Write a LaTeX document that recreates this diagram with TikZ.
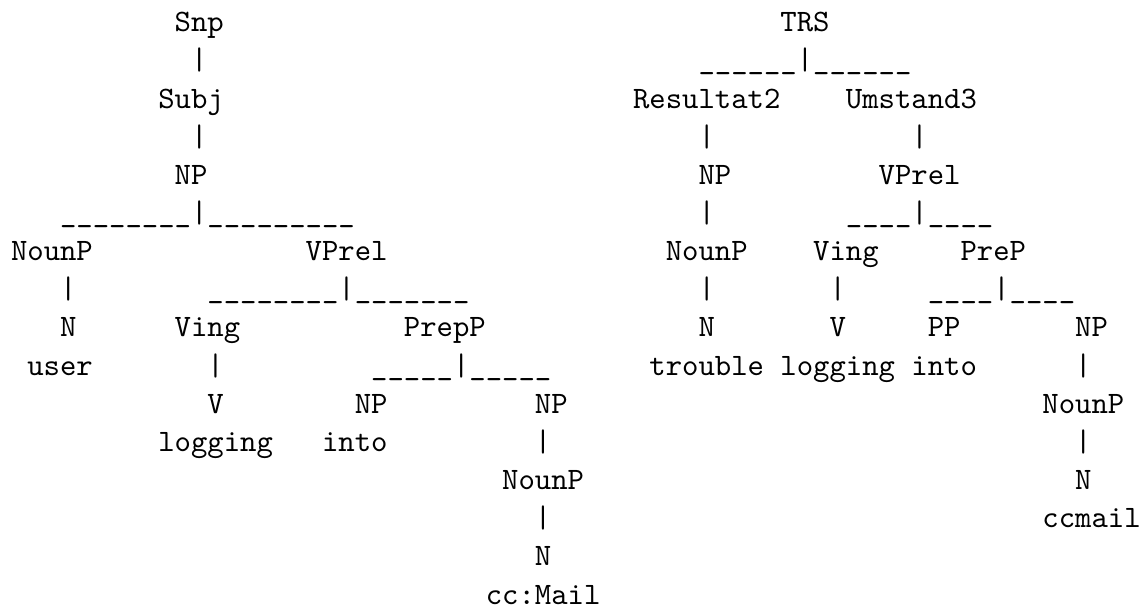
\documentclass[tikz,border=0pt]{standalone}
\usepackage{tikz}

\begin{document}
\begin{tikzpicture}[
    x=5.25pt, y=-12.235pt,
    lab/.style={anchor=base west, inner sep=0pt, outer sep=0pt, font=\ttfamily},
]
\useasboundingbox (-3.53pt,10.17pt) rectangle (363.97pt,-186.43pt);

% Left tree
\node[lab] (snp) at (10,0) {Snp};
\node[lab] (snpbar) at (11,1) {|};
\node[lab] (subj) at (9,2) {Subj};
\node[lab] (subjbar) at (11,3) {|};
\node[lab] (np) at (10,4) {NP};
\node[lab] (npfork) at (3,5) {\_\_\_\_\_\_\_\_|\_\_\_\_\_\_\_\_\_};

\node[lab] (nounp) at (0,6) {NounP};
\node[lab] (vprel) at (18,6) {VPrel};
\node[lab] (nounpbar) at (3,7) {|};
\node[lab] (vprelfork) at (12,7) {\_\_\_\_\_\_\_\_|\_\_\_\_\_\_\_};

\node[lab] (n) at (3,8) {N};
\node[lab] (ving) at (10,8) {Ving};
\node[lab] (prepp) at (24,8) {PrepP};
\node[lab] (user) at (1,9) {user};
\node[lab] (vingbar) at (12,9) {|};
\node[lab] (preppfork) at (22,9) {\_\_\_\_\_|\_\_\_\_\_};

\node[lab] (v) at (12,10) {V};
\node[lab] (npa) at (21,10) {NP};
\node[lab] (npb) at (32,10) {NP};
\node[lab] (logging) at (9,11) {logging};
\node[lab] (into) at (19,11) {into};
\node[lab] (npbbar) at (32,11) {|};
\node[lab] (nounpb) at (30,12) {NounP};
\node[lab] (nounpbbar) at (32,13) {|};
\node[lab] (nb) at (32,14) {N};
\node[lab] (ccmail) at (29,15) {cc:Mail};

% Right tree
\node[lab] (trs) at (47,0) {TRS};
\node[lab] (trsfork) at (42,1) {\_\_\_\_\_\_|\_\_\_\_\_\_};
\node[lab] (res) at (38,2) {Resultat2};
\node[lab] (umst) at (51,2) {Umstand3};
\node[lab] (resbar) at (42,3) {|};
\node[lab] (umstbar) at (55,3) {|};

\node[lab] (rnp) at (42,4) {NP};
\node[lab] (rvprel) at (53,4) {VPrel};
\node[lab] (rnpbar) at (42,5) {|};
\node[lab] (rvprelfork) at (51,5) {\_\_\_\_|\_\_\_\_};

\node[lab] (rnounp) at (40,6) {NounP};
\node[lab] (rving) at (49,6) {Ving};
\node[lab] (rprep) at (58,6) {PreP};
\node[lab] (rnounpbar) at (42,7) {|};
\node[lab] (rvingbar) at (50,7) {|};
\node[lab] (rprepfork) at (56,7) {\_\_\_\_|\_\_\_\_};

\node[lab] (rn) at (42,8) {N};
\node[lab] (rv) at (50,8) {V};
\node[lab] (rpp) at (56,8) {PP};
\node[lab] (rnpb) at (65,8) {NP};
\node[lab] (trouble) at (39,9) {trouble};
\node[lab] (rlogging) at (47,9) {logging};
\node[lab] (rinto) at (55,9) {into};
\node[lab] (rnpbbar) at (65,9) {|};

\node[lab] (rnounpb) at (63,10) {NounP};
\node[lab] (rnounpbbar) at (65,11) {|};
\node[lab] (rnb) at (65,12) {N};
\node[lab] (rccmail) at (63,13) {ccmail};
\end{tikzpicture}
\end{document}
